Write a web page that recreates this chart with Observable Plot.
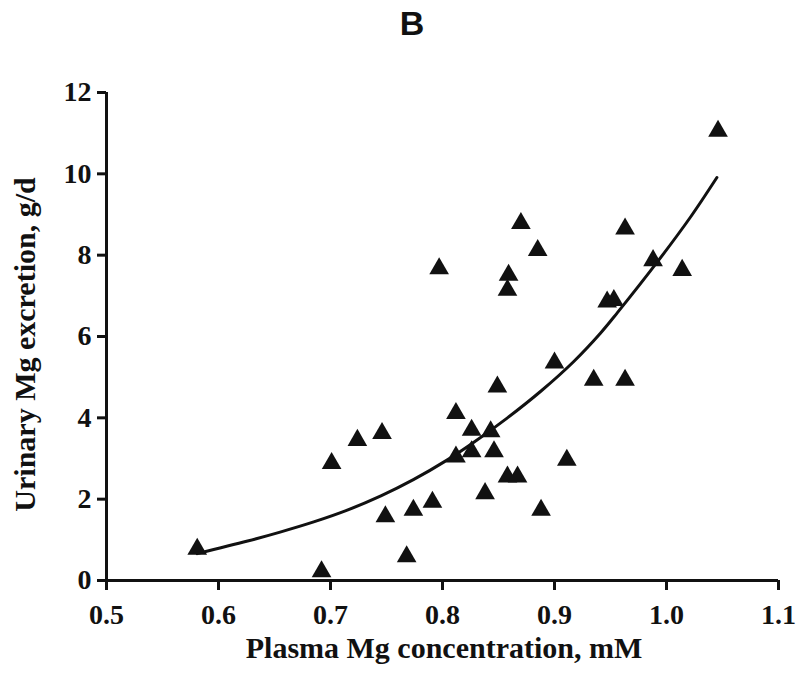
<!DOCTYPE html>
<html><head><meta charset="utf-8">
<script src="https://cdn.jsdelivr.net/npm/d3@7"></script>
<script src="https://cdn.jsdelivr.net/npm/@observablehq/plot@0.6"></script>
<style>
body{margin:0;background:#fff;}
#title{position:relative;height:50px;font-family:"Liberation Sans",Arial,sans-serif;font-weight:bold;font-size:34px;color:#111;}
#title span{position:absolute;left:412px;top:6px;transform:translateX(-50%);line-height:34px;}
</style></head><body>
<div id="title"><span>B</span></div>
<div id="chart"></div>
<script>
// Scatter: plasma Mg concentration (mM) vs urinary Mg excretion (g/d)
const plasmaMg = [0.581,0.692,0.701,0.724,0.746,0.749,0.768,0.774,0.791,0.812,0.812,0.826,0.826,0.838,0.843,0.846,0.849,0.858,0.867,0.888,0.900,0.911,0.935,0.963,1.046,0.870,0.885,0.797,0.859,0.858,0.963,0.988,1.014,0.947,0.953];
const urinaryMg = [0.77,0.22,2.88,3.45,3.62,1.57,0.59,1.73,1.93,4.11,3.04,3.70,3.17,2.14,3.66,3.17,4.76,2.55,2.55,1.73,5.35,2.96,4.93,4.93,11.05,8.78,8.12,7.67,7.51,7.14,8.65,7.87,7.63,6.85,6.89];
// Fitted curve
const fitX = [0.581,0.626,0.655,0.685,0.715,0.745,0.774,0.804,0.828,0.858,0.888,0.917,0.941,0.956,0.992,1.021,1.045];
const fitY = [0.66,0.97,1.19,1.44,1.73,2.08,2.48,2.96,3.40,4.00,4.66,5.38,6.08,6.58,7.84,8.92,9.91];
const xTicks = [0.5,0.6,0.7,0.8,0.9,1.0,1.1];
const yTicks = [0,2,4,6,8,10,12];
const xLabel = "Plasma Mg concentration, mM";
const yLabel = "Urinary Mg excretion, g/d";

const points = plasmaMg.map((x, i) => ({x, y: urinaryMg[i]}));
const fit = fitX.map((x, i) => ({x, y: fitY[i]}));
const ink = "#111";

const chart = Plot.plot({
  width: 800, height: 627,
  marginLeft: 106, marginRight: 22, marginTop: 42, marginBottom: 97,
  x: {domain: [0.5, 1.1]},
  y: {domain: [0, 12]},
  style: {fontFamily: "'Liberation Serif','Times New Roman',serif", fontWeight: "bold", color: ink, background: "#fff", overflow: "visible"},
  marks: [
    Plot.axisY(yTicks, {tickSize: 9, tickPadding: 6, fontSize: 28, strokeWidth: 3, stroke: ink, label: null, tickFormat: d => String(d)}),
    Plot.axisX(xTicks, {tickSize: 10, tickPadding: 14, fontSize: 28, strokeWidth: 3, stroke: ink, label: null, tickFormat: d => d.toFixed(1)}),
    Plot.ruleX([0.5], {stroke: ink, strokeWidth: 3}),
    Plot.ruleY([0], {stroke: ink, strokeWidth: 3}),
    Plot.line(fit, {x: "x", y: "y", curve: "catmull-rom", stroke: ink, strokeWidth: 3}),
    Plot.dot(points, {x: "x", y: "y", symbol: "triangle", r: 7.3, fill: ink, stroke: "none"}),
    Plot.text([yLabel], {frameAnchor: "left", textAnchor: "middle", rotate: -90, dx: -81.5, dy: 8, fontSize: 30, fill: ink}),
    Plot.text([xLabel], {frameAnchor: "bottom", textAnchor: "middle", dx: 1.5, dy: 77, fontSize: 30, fill: ink, ariaLabel: "xlabel"})
  ]
});
document.getElementById("chart").appendChild(chart);
// italic "M" in the unit mM
const t = chart.querySelector('g[aria-label="xlabel"] text');
if (t) {
  t.textContent = "";
  t.appendChild(document.createTextNode(xLabel.slice(0, -1)));
  const ts = document.createElementNS("http://www.w3.org/2000/svg", "tspan");
  ts.setAttribute("font-style", "italic");
  ts.style.fontStyle = "italic";
  ts.textContent = xLabel.slice(-1);
  t.appendChild(ts);
}
</script>
</body></html>
